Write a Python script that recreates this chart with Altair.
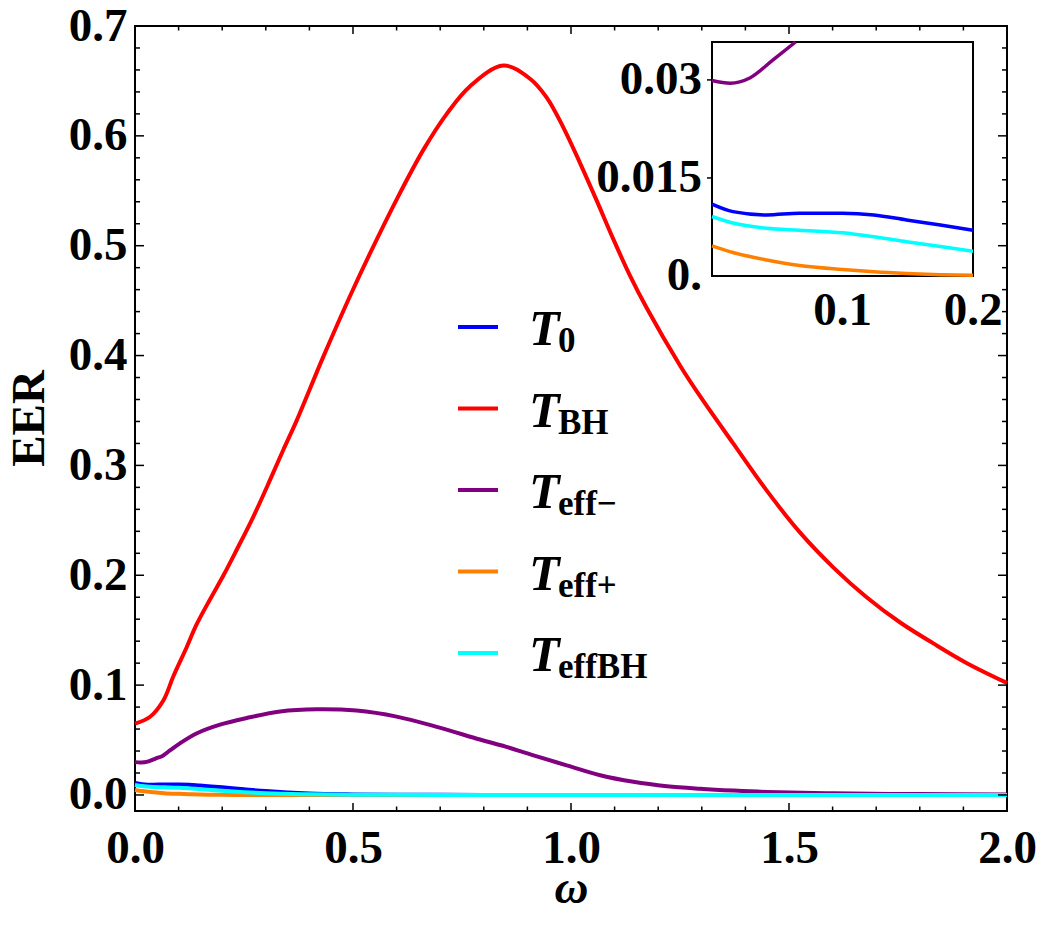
import altair as alt
import pandas as pd

# ---------------- data ----------------
w_T0 = [0, 0.016, 0.042, 0.067, 0.10, 0.124, 0.149, 0.175, 0.2, 0.25, 0.30, 0.35, 0.40, 0.50, 0.60, 0.80, 1.0, 1.5, 2.0]
eer_T0 = [0.0110, 0.00985, 0.00934, 0.0096, 0.0096, 0.00934, 0.00857, 0.0078, 0.0070, 0.0052, 0.0035, 0.0022, 0.0013,
          0.0005, 0.0002, 0.00005, 0, 0, 0]

w_BH = [0, 0.034, 0.065, 0.088, 0.118, 0.141, 0.172, 0.203, 0.233, 0.271, 0.310, 0.340, 0.371, 0.432, 0.493, 0.539,
        0.600, 0.661, 0.715, 0.768, 0.845, 0.906, 0.944, 0.982, 1.021, 1.059, 1.097, 1.135, 1.174, 1.25, 1.296, 1.372,
        1.449, 1.525, 1.602, 1.678, 1.755, 1.831, 1.908, 2.0]
eer_BH = [0.065, 0.071, 0.086, 0.108, 0.134, 0.155, 0.178, 0.200, 0.223, 0.253, 0.287, 0.314, 0.341, 0.399, 0.454,
          0.493, 0.542, 0.587, 0.620, 0.645, 0.664, 0.652, 0.635, 0.608, 0.575, 0.541, 0.506, 0.473, 0.443, 0.391,
          0.363, 0.320, 0.277, 0.239, 0.207, 0.180, 0.157, 0.138, 0.120, 0.102]

w_effm = [0, 0.014, 0.029, 0.047, 0.064, 0.08, 0.103, 0.141, 0.195, 0.256, 0.333, 0.417, 0.508, 0.600, 0.692, 0.791,
          0.85, 0.914, 0.990, 1.067, 1.143, 1.220, 1.296, 1.372, 1.449, 1.60, 1.80, 2.0]
eer_effm = [0.0299, 0.0295, 0.0303, 0.0331, 0.0358, 0.0405, 0.047, 0.056, 0.064, 0.070, 0.076, 0.078, 0.0768,
            0.0713, 0.062, 0.0505, 0.044, 0.036, 0.027, 0.018, 0.012, 0.008, 0.0057, 0.004, 0.0027, 0.0015, 0.0008,
            0.0004]

w_effp = [0, 0.016, 0.042, 0.067, 0.10, 0.124, 0.149, 0.175, 0.2, 0.25, 0.30, 0.5, 1.0, 2.0]
eer_effp = [0.0046, 0.0036, 0.00245, 0.0016, 0.0010, 0.00066, 0.0004, 0.0002, 0.0001, 0.00003, 0, 0, 0, 0]

w_effBH = [0, 0.016, 0.042, 0.067, 0.10, 0.124, 0.149, 0.175, 0.2, 0.25, 0.30, 0.40, 0.50, 0.60, 0.80, 1.0, 2.0]
eer_effBH = [0.0091, 0.0081, 0.0073, 0.0070, 0.0066, 0.0060, 0.00525, 0.0045, 0.0038, 0.0025, 0.0015, 0.0006, 0.0002,
             0.0001, 0, 0, 0]

legend_main = ["T", "T", "T", "T", "T"]
legend_sub = ["0", "BH", "eff\u2212", "eff+", "effBH"]
colors = ["#0000FF", "#FF0000", "#800080", "#FF8000", "#00FFFF"]

x_major = [0.0, 0.5, 1.0, 1.5, 2.0]
x_minor = [round(0.1 * i, 2) for i in range(21) if i % 5 != 0]
y_major = [0.0, 0.1, 0.2, 0.3, 0.4, 0.5, 0.6, 0.7]
y_minor = [round(0.02 * i, 2) for i in range(1, 35) if i % 5 != 0]

inset_y_vals = [0.0, 0.015, 0.03]
inset_y_labels = ["0.", "0.015", "0.03"]
inset_x_vals = [0.1, 0.2]
inset_x_labels = ["0.1", "0.2"]

# ---------------- layout ----------------
W, H = 872, 785
FONT = "Liberation Serif"
FS = 47

xs = alt.Scale(domain=[0, 2], nice=False, zero=False)
ys = alt.Scale(domain=[-0.0146, 0.7], nice=False, zero=False)

xaxis = alt.Axis(values=x_major, format=".1f", ticks=False, tickSize=0, domain=False, grid=False,
                 labelFont=FONT, labelFontSize=FS, labelFontWeight="bold", labelColor="black",
                 labelBaseline="alphabetic", labelPadding=51, labelFlush=False, labelOverlap=False,
                 title="ω", titleFont=FONT, titleFontSize=FS, titleFontStyle="italic", titleFontWeight="bold",
                 titleColor="black", titleX=436, titleY=91, titleAlign="center", titleBaseline="alphabetic")
yaxis = alt.Axis(values=y_major, format=".1f", ticks=False, tickSize=0, domain=False, grid=False,
                 labelFont=FONT, labelFontSize=FS, labelFontWeight="bold", labelColor="black",
                 labelAlign="right", labelBaseline="middle", labelPadding=8, labelOverlap=False, labelFlush=False,
                 title="EER", titleFont=FONT, titleFontSize=FS, titleFontWeight="bold", titleColor="black",
                 titleAngle=270, titleX=-92, titleY=392, titleAlign="center", titleBaseline="alphabetic")

series = [
    (w_T0, eer_T0, colors[0], "monotone"),
    (w_BH, eer_BH, colors[1], "catmull-rom"),
    (w_effm, eer_effm, colors[2], "catmull-rom"),
    (w_effp, eer_effp, colors[3], "monotone"),
    (w_effBH, eer_effBH, colors[4], "monotone"),
]

main_layers = []
for w, v, c, interp in series:
    df = pd.DataFrame({"w": w, "v": v})
    main_layers.append(
        alt.Chart(df).mark_line(color=c, strokeWidth=4, interpolate=interp).encode(
            x=alt.X("w:Q", scale=xs, axis=xaxis), y=alt.Y("v:Q", scale=ys, axis=yaxis))
    )

# inward ticks on all four sides
def yticks(vals, length):
    df = pd.DataFrame({"v": vals})
    left = alt.Chart(df).mark_rule(color="black", strokeWidth=1.5).encode(
        y=alt.Y("v:Q", scale=ys, axis=yaxis), x=alt.value(0), x2=alt.value(length))
    right = alt.Chart(df).mark_rule(color="black", strokeWidth=1.5).encode(
        y=alt.Y("v:Q", scale=ys, axis=yaxis), x=alt.value(W), x2=alt.value(W - length))
    return [left, right]

def xticks(vals, length):
    df = pd.DataFrame({"w": vals})
    bottom = alt.Chart(df).mark_rule(color="black", strokeWidth=1.5).encode(
        x=alt.X("w:Q", scale=xs, axis=xaxis), y=alt.value(H), y2=alt.value(H - length))
    top = alt.Chart(df).mark_rule(color="black", strokeWidth=1.5).encode(
        x=alt.X("w:Q", scale=xs, axis=xaxis), y=alt.value(0), y2=alt.value(length))
    return [bottom, top]

main_layers += yticks(y_major, 9) + yticks(y_minor, 5) + xticks(x_major, 8) + xticks(x_minor, 4.5)

# legend drawn as rules and rich text
one = pd.DataFrame({"a": [0]})
leg_y0, leg_dy = 301, 81.5
for i, (m, s, c) in enumerate(zip(legend_main, legend_sub, colors)):
    ly = leg_y0 + i * leg_dy
    main_layers.append(alt.Chart(one).mark_rule(color=c, strokeWidth=4).encode(
        x=alt.value(323), x2=alt.value(363), y=alt.value(ly)))
    main_layers.append(alt.Chart(one).mark_text(
        font=FONT, fontSize=50, fontStyle="italic", fontWeight="bold", color="black",
        align="left", baseline="alphabetic").encode(
        x=alt.value(394), y=alt.value(ly + 18), text=alt.value(m)))
    main_layers.append(alt.Chart(one).mark_text(
        font=FONT, fontSize=35, fontWeight="bold", color="black",
        align="left", baseline="alphabetic").encode(
        x=alt.value(423), y=alt.value(ly + 25), text=alt.value(s)))

main = alt.layer(*main_layers)

# ---------------- inset ----------------
ixs = alt.Scale(domain=[0, 0.2], range=[577, 838], nice=False, zero=False)
iys = alt.Scale(domain=[0, 0.0358], range=[250, 16], nice=False, zero=False)

frame = alt.Chart(pd.DataFrame({"x0": [0], "x1": [0.2], "y0": [0], "y1": [0.0358]})).mark_rect(
    fill="white", stroke="black", strokeWidth=2).encode(
    x=alt.X("x0:Q", scale=ixs, axis=None), x2="x1:Q",
    y=alt.Y("y0:Q", scale=iys, axis=None), y2="y1:Q")

inset_layers = [frame]
for w, v, c, interp in [series[0], series[2], series[3], series[4]]:
    df = pd.DataFrame({"w": w, "v": v})
    inset_layers.append(
        alt.Chart(df).transform_filter("datum.w <= 0.2001 && datum.v <= 0.03581").mark_line(
            color=c, strokeWidth=3.5, interpolate="monotone").encode(
            x=alt.X("w:Q", scale=ixs, axis=None), y=alt.Y("v:Q", scale=iys, axis=None))
    )

iy_df = pd.DataFrame({"v": inset_y_vals, "lab": inset_y_labels})
inset_layers.append(alt.Chart(iy_df).mark_text(
    font=FONT, fontSize=FS, fontWeight="bold", color="black", align="right", baseline="middle").encode(
    x=alt.value(567), y=alt.Y("v:Q", scale=iys, axis=None), text="lab:N"))
inset_layers.append(alt.Chart(iy_df[iy_df["v"] > 0]).mark_rule(color="black", strokeWidth=1.5).encode(
    x=alt.value(572), x2=alt.value(577), y=alt.Y("v:Q", scale=iys, axis=None)))

ix_df = pd.DataFrame({"w": inset_x_vals, "lab": inset_x_labels})
inset_layers.append(alt.Chart(ix_df).mark_text(
    font=FONT, fontSize=FS, fontWeight="bold", color="black", align="center", baseline="alphabetic").encode(
    x=alt.X("w:Q", scale=ixs, axis=None), y=alt.value(299), text="lab:N"))

inset = alt.layer(*inset_layers)

chart = alt.layer(main, inset).resolve_scale(x="independent", y="independent").properties(
    width=W, height=H,
    autosize=alt.AutoSizeParams(type="none"),
    padding={"left": 135, "top": 26, "right": 35, "bottom": 131},
    background="white",
).configure_view(stroke="black", strokeWidth=2)

chart.save("out.html", embed_options={"renderer": "svg", "actions": False})
